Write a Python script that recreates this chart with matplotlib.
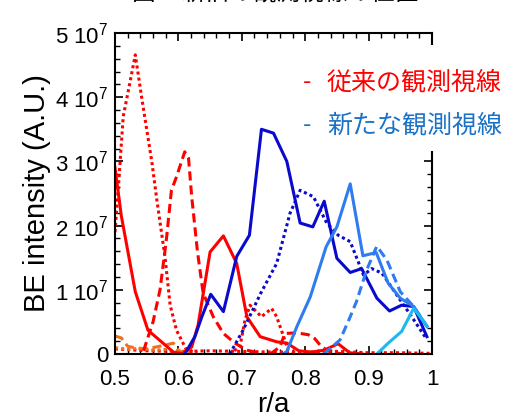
import matplotlib
matplotlib.use("Agg")
import matplotlib.pyplot as plt
from matplotlib.patches import Rectangle
from matplotlib.ticker import MultipleLocator, FixedLocator, FixedFormatter

plt.rcParams['font.family'] = ['Liberation Sans', 'Noto Sans CJK JP', 'DejaVu Sans']
plt.rcParams['mathtext.fontset'] = 'custom'
plt.rcParams['mathtext.rm'] = 'Liberation Sans'
plt.rcParams['mathtext.it'] = 'Liberation Sans'

SCALE = 1e7

# ---- data (units of 1e7) ----
red_solid_a_x = [0.5, 0.51, 0.532, 0.552, 0.565, 0.592, 0.61]
red_solid_a_y = [2.9, 2.15, 0.97, 0.37, 0.26, 0.03, 0.0]

red_solid_b_x = [0.605, 0.621, 0.631, 0.65, 0.671, 0.692, 0.708, 0.729, 0.755, 0.771, 0.79, 0.81, 0.83, 0.852, 0.87, 0.89]
red_solid_b_y = [0.0, 0.11, 0.45, 1.59, 1.84, 1.41, 0.58, 0.27, 0.19, 0.17, 0.05, 0.03, 0.06, 0.16, 0.02, 0.0]

red_dot_a_x = [0.5, 0.506, 0.513, 0.521, 0.532, 0.542, 0.55, 0.558, 0.566, 0.579, 0.587, 0.597, 0.613, 0.63]
red_dot_a_y = [1.9, 2.7, 3.7, 4.1, 4.66, 4.0, 3.5, 3.0, 2.4, 1.5, 0.76, 0.37, 0.06, 0.02]

red_dot_b_x = [0.68, 0.697, 0.705, 0.713, 0.731, 0.747, 0.755, 0.766, 0.773, 0.79]
red_dot_b_y = [0.0, 0.11, 0.53, 0.76, 0.58, 0.71, 0.58, 0.27, 0.06, 0.0]

red_dash_a_x = [0.545, 0.56, 0.571, 0.581, 0.589, 0.597, 0.605, 0.61, 0.616, 0.621, 0.63, 0.639, 0.655, 0.671, 0.689, 0.708, 0.725]
red_dash_a_y = [0.05, 0.5, 1.0, 1.78, 2.55, 2.76, 3.0, 3.15, 3.05, 2.45, 1.6, 0.95, 0.58, 0.32, 0.17, 0.06, 0.02]

red_dash_b_x = [0.745, 0.76, 0.768, 0.787, 0.805, 0.815, 0.826, 0.84, 0.86]
red_dash_b_y = [0.0, 0.11, 0.32, 0.33, 0.30, 0.24, 0.11, 0.03, 0.0]

red_low_x = [0.5, 0.55, 0.6, 0.65, 0.7, 0.75, 0.8, 0.85, 0.9, 0.95, 1.0]
red_low_y = [0.08, 0.05, 0.04, 0.05, 0.04, 0.03, 0.03, 0.04, 0.02, 0.02, 0.01]

orange_dash_x = [0.5, 0.51, 0.52, 0.54, 0.56, 0.58, 0.592, 0.6, 0.61]
orange_dash_y = [0.28, 0.25, 0.12, 0.08, 0.10, 0.14, 0.17, 0.06, 0.0]

orange_dot_x = [0.5, 0.52, 0.54, 0.56, 0.58, 0.6, 0.62]
orange_dot_y = [0.10, 0.07, 0.09, 0.06, 0.07, 0.04, 0.02]

blue_solid_x = [0.61, 0.626, 0.637, 0.651, 0.671, 0.692, 0.712, 0.731, 0.75, 0.771, 0.792, 0.812, 0.83, 0.85, 0.871, 0.889, 0.913, 0.933, 0.952, 0.971, 0.992]
blue_solid_y = [0.0, 0.27, 0.58, 0.93, 0.66, 1.52, 1.85, 3.5, 3.44, 3.0, 2.04, 1.98, 2.38, 1.49, 1.27, 1.33, 0.87, 0.67, 0.76, 0.74, 0.27]

blue_dot_x = [0.681, 0.702, 0.73, 0.755, 0.776, 0.792, 0.813, 0.834, 0.852, 0.871, 0.892, 0.905, 0.921, 0.95, 0.968, 0.991]
blue_dot_y = [0.0, 0.37, 0.95, 1.41, 2.19, 2.55, 2.45, 2.04, 1.85, 1.75, 1.23, 1.33, 1.26, 0.84, 0.58, 0.24]

mid_solid_x = [0.765, 0.771, 0.787, 0.808, 0.833, 0.85, 0.871, 0.891, 0.912, 0.931, 0.95, 0.971, 0.992]
mid_solid_y = [0.0, 0.04, 0.43, 0.89, 1.67, 1.98, 2.65, 1.53, 1.58, 1.10, 0.87, 0.74, 0.43]

mid_dash_x = [0.829, 0.855, 0.871, 0.881, 0.897, 0.913, 0.929, 0.95, 0.971, 0.992]
mid_dash_y = [0.0, 0.22, 0.58, 0.82, 1.31, 1.68, 1.46, 0.97, 0.74, 0.43]

cyan_x = [0.913, 0.931, 0.952, 0.971, 0.992]
cyan_y = [0.0, 0.17, 0.35, 0.71, 0.44]

x_ticks = [0.5, 0.6, 0.7, 0.8, 0.9, 1.0]
x_labels = ['0.5', '0.6', '0.7', '0.8', '0.9', '1']
y_ticks = [0, 1, 2, 3, 4, 5]
y_labels = ['0', '1 10$^7$', '2 10$^7$', '3 10$^7$', '4 10$^7$', '5 10$^7$']

legend_old = '従来の観測視線'
legend_new = '新たな観測視線'
title_text = '図2  新旧の観測視線の位置'

RED = '#FF0000'
ORANGE = '#F07020'
DBLUE = '#0A0ACD'
MBLUE = '#2F7BF0'
CYAN = '#1CB8F0'
LEG_BLUE = '#1A72C8'
LW = 2.2
DOT = (0, (1, 1))
DASH = (0, (3, 1.6))

fig = plt.figure(figsize=(5.09, 4.12), dpi=100)
ax = fig.add_axes([115/509, 1-354/412, 317/509, 321/412])

def s(v):
    return [a * SCALE for a in v]

ax.plot(red_low_x, s(red_low_y), color=RED, lw=LW, ls=DOT)
ax.plot(orange_dot_x, s(orange_dot_y), color=ORANGE, lw=LW, ls=DOT)
ax.plot(orange_dash_x, s(orange_dash_y), color=ORANGE, lw=LW, ls=DASH)
ax.plot(red_solid_a_x, s(red_solid_a_y), color=RED, lw=LW)
ax.plot(red_solid_b_x, s(red_solid_b_y), color=RED, lw=LW)
ax.plot(red_dot_a_x, s(red_dot_a_y), color=RED, lw=LW, ls=DOT)
ax.plot(red_dot_b_x, s(red_dot_b_y), color=RED, lw=LW, ls=DOT)
ax.plot(red_dash_a_x, s(red_dash_a_y), color=RED, lw=LW, ls=DASH)
ax.plot(red_dash_b_x, s(red_dash_b_y), color=RED, lw=LW, ls=DASH)
ax.plot(blue_solid_x, s(blue_solid_y), color=DBLUE, lw=LW)
ax.plot(blue_dot_x, s(blue_dot_y), color=DBLUE, lw=LW, ls=DOT)
ax.plot(mid_solid_x, s(mid_solid_y), color=MBLUE, lw=LW)
ax.plot(mid_dash_x, s(mid_dash_y), color=MBLUE, lw=LW, ls=DASH)
ax.plot(cyan_x, s(cyan_y), color=CYAN, lw=LW)

ax.set_xlim(0.5, 1.0)
ax.set_ylim(0, 5 * SCALE)
ax.xaxis.set_major_locator(FixedLocator(x_ticks))
ax.xaxis.set_major_formatter(FixedFormatter(x_labels))
ax.xaxis.set_minor_locator(MultipleLocator(0.02))
ax.yaxis.set_major_locator(FixedLocator([t * SCALE for t in y_ticks]))
ax.yaxis.set_major_formatter(FixedFormatter(y_labels))
ax.yaxis.set_minor_locator(MultipleLocator(0.2 * SCALE))
ax.tick_params(which='both', direction='in', top=True, right=True, color='black')
ax.tick_params(which='major', length=6, width=1.2, labelsize=16)
ax.tick_params(axis='y', which='major', pad=5)
ax.tick_params(axis='x', which='major', pad=11)
ax.tick_params(which='minor', length=3.5, width=1.0)
for sp in ax.spines.values():
    sp.set_linewidth(1.5)

ax.set_ylabel('BE intensity (A.U.)', fontsize=21, labelpad=3)
ax.set_xlabel('r/a', fontsize=20, labelpad=1)

# white box behind the legend text
fig.add_artist(Rectangle((298/509, 1-151/412), (509-298)/509, 106/412,
                         transform=fig.transFigure, facecolor='white',
                         edgecolor='none', zorder=5))
fig.text(303/509, 1-82/412, '-', color=RED, fontsize=18, va='center', ha='left', zorder=6)
fig.text(327/509, 1-82/412, legend_old, color=RED, fontsize=18, va='center', ha='left', zorder=6)
fig.text(303/509, 1-125/412, '-', color=LEG_BLUE, fontsize=18, va='center', ha='left', zorder=6)
fig.text(327/509, 1-125/412, legend_new, color=LEG_BLUE, fontsize=18, va='center', ha='left', zorder=6)

fig.text(275/509, 1 + 6/412, title_text, fontsize=17, ha='center', va='center', color='black')

fig.savefig('out.png', dpi=100)
